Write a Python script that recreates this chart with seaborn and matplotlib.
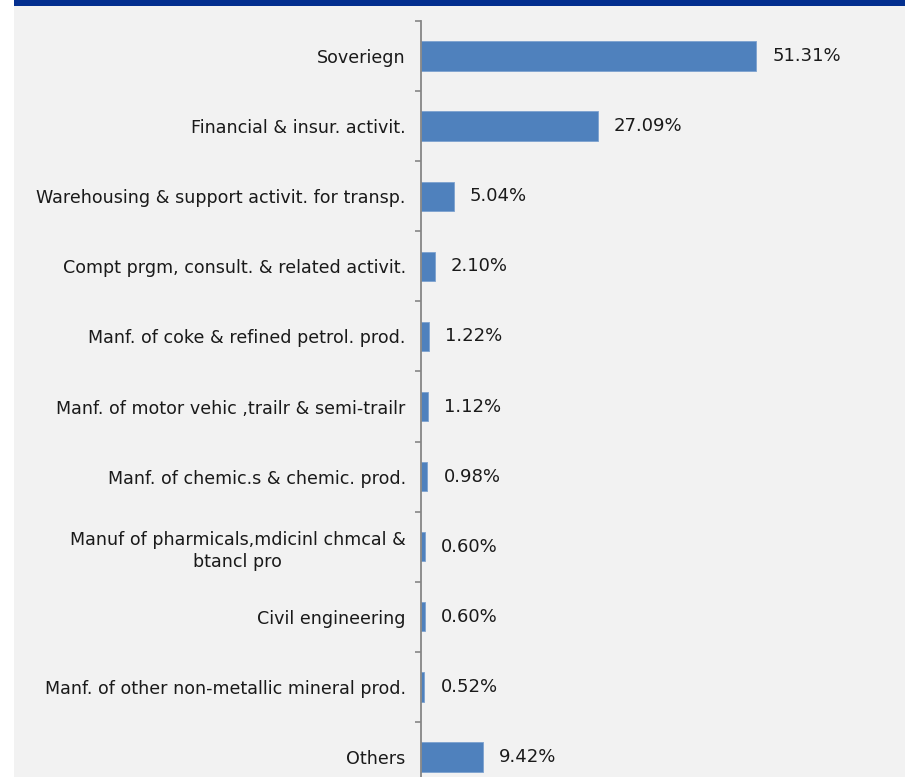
import matplotlib
matplotlib.use("Agg")
import matplotlib.pyplot as plt
from matplotlib.patches import Rectangle
from matplotlib.ticker import FixedLocator
import seaborn as sns

categories = [
    "Soveriegn",
    "Financial & insur. activit.",
    "Warehousing & support activit. for transp.",
    "Compt prgm, consult. & related activit.",
    "Manf. of coke & refined petrol. prod.",
    "Manf. of motor vehic ,trailr & semi-trailr",
    "Manf. of chemic.s & chemic. prod.",
    "Manuf of pharmicals,mdicinl chmcal &\nbtancl pro",
    "Civil engineering",
    "Manf. of other non-metallic mineral prod.",
    "Others",
]
values = [51.31, 27.09, 5.04, 2.10, 1.22, 1.12, 0.98, 0.60, 0.60, 0.52, 9.42]
value_labels = [f"{v:.2f}%" for v in values]

sns.set_theme(style="white")
plt.rcParams["font.family"] = ["DejaVu Sans"]

W, H = 916, 777
fig = plt.figure(figsize=(W / 100, H / 100), dpi=100)
fig.patch.set_facecolor("white")

# grey panel and dark-blue header band
fig.patches.append(Rectangle((14 / W, 0), (905 - 14) / W, 1 - 6 / H,
                             transform=fig.transFigure, facecolor="#f2f2f2",
                             edgecolor="none", zorder=-2))
fig.patches.append(Rectangle((14 / W, 1 - 6 / H), (905 - 14) / W, 6 / H,
                             transform=fig.transFigure, facecolor="#032f8f",
                             edgecolor="none", zorder=-2))

ax = fig.add_axes([421 / W, -15 / H, (905 - 421) / W, (792 - 21) / H])
ax.set_facecolor("none")

sns.barplot(x=values, y=categories, orient="h", color="#4f81bd",
            saturation=1, width=0.42, edgecolor="#7da2cf", linewidth=0.6,
            ax=ax)

ax.set_xlim(0, 74.1)
ax.set_ylim(len(categories) - 0.5, -0.5)

for i, (v, lab) in enumerate(zip(values, value_labels)):
    ax.annotate(lab, xy=(v, i), xytext=(16, 0), textcoords="offset pixels",
                va="center", ha="left", fontsize=13, color="#1a1a1a")

for s in ["top", "right", "bottom"]:
    ax.spines[s].set_visible(False)
ax.spines["left"].set_color("#868686")
ax.spines["left"].set_linewidth(1.3)

ax.set_xticks([])
ax.set_xlabel("")
ax.set_ylabel("")
ax.yaxis.set_minor_locator(FixedLocator([i - 0.5 for i in range(len(categories) + 1)]))
ax.tick_params(axis="y", which="major", length=0, pad=11, labelsize=12.6,
               labelcolor="#1a1a1a")
ax.tick_params(axis="y", which="minor", left=True, length=4.5, width=1.2,
               color="#868686")
for t in ax.get_yticklabels():
    t.set_multialignment("center")
    t.set_linespacing(1.3)

fig.savefig("out.png", dpi=100)
